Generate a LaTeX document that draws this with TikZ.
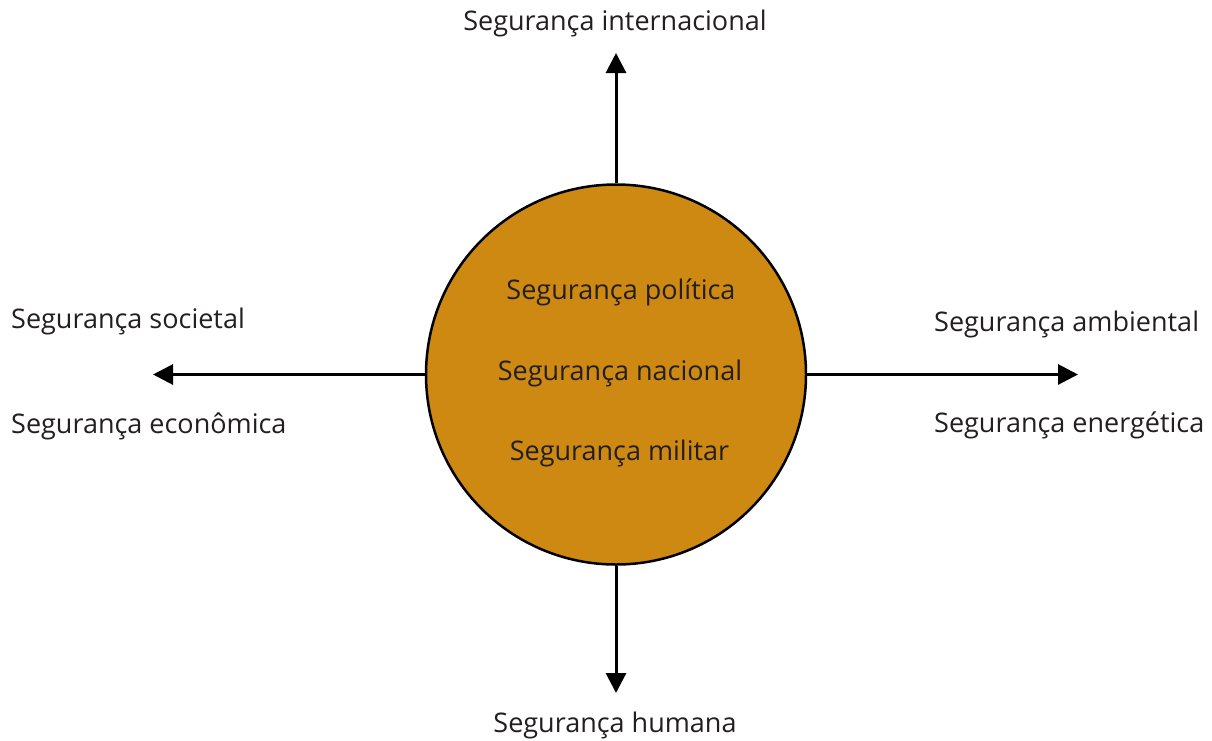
\documentclass[tikz,border=0pt]{standalone}
\usepackage{fontspec}
\setmainfont{Open Sans}
\usetikzlibrary{arrows.meta}
\definecolor{ochre}{RGB}{205,137,18}
\definecolor{ink}{RGB}{35,31,32}
\begin{document}
\begin{tikzpicture}[x=1pt,y=-1pt,
  lbl/.style={inner sep=0pt,text=ink,font=\fontsize{27}{31}\selectfont},
  conn/.style={line width=3pt,-{Triangle[length=20pt,width=20pt]}}]
\useasboundingbox (0,0) rectangle (1212,740);
\node[circle,draw=black,line width=2.5pt,fill=ochre,minimum size=380pt,inner sep=0pt] (c) at (616,374.5) {};
\coordinate (tN) at (616,53);
\coordinate (tS) at (616,693);
\coordinate (tW) at (153,374.5);
\coordinate (tE) at (1078,374.5);
\draw[conn] (c.north) -- (tN);
\draw[conn] (c.south) -- (tS);
\draw[conn] (c.west) -- (tW);
\draw[conn] (c.east) -- (tE);
\node[lbl,anchor=base] (pol) at (621,299) {Segurança política};
\node[lbl,anchor=base] (nac) at (620,380) {Segurança nacional};
\node[lbl,anchor=base] (mil) at (619.5,460) {Segurança militar};
\node[lbl,anchor=base] (int) at (615,30) {Segurança internacional};
\node[lbl,anchor=base] (hum) at (615,732) {Segurança humana};
\node[lbl,anchor=base west] (soc) at (11,328) {Segurança societal};
\node[lbl,anchor=base west] (eco) at (11,433) {Segurança econômica};
\node[lbl,anchor=base west] (amb) at (934,331) {Segurança ambiental};
\node[lbl,anchor=base west] (ene) at (934,432) {Segurança energética};
\end{tikzpicture}
\end{document}
